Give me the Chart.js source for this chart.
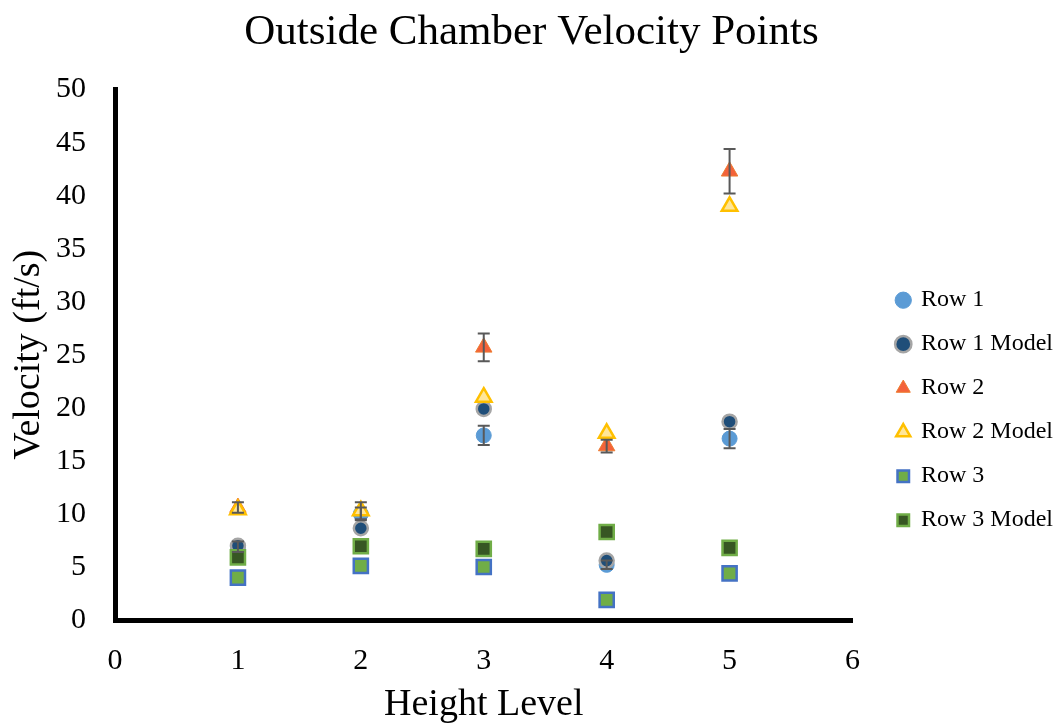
<!DOCTYPE html>
<html>
<head>
<meta charset="utf-8">
<script src="https://cdn.jsdelivr.net/npm/chart.js@4.4.1/dist/chart.umd.min.js"></script>
<style>
  html, body { margin: 0; padding: 0; background: #fff; }
  #wrap { width: 1058px; height: 728px; }
</style>
</head>
<body>
<div id="wrap"><canvas id="velChart" width="1058" height="728"></canvas></div>
<script>
const heights = [1, 2, 3, 4, 5];
const row1 = [6.9, 10.0, 17.4, 5.2, 17.1];
const row1Err = [0.5, 0.6, 0.9, 0.4, 0.9];
const row1Model = [7.0, 8.65, 19.9, 5.6, 18.7];
const row2 = [10.6, 10.3, 25.7, 16.4, 42.3];
const row2Err = [0.5, 0.8, 1.3, 0.6, 2.1];
const row2Model = [10.4, 10.3, 21.0, 17.6, 39.0];
const row3 = [4.0, 5.1, 5.0, 1.9, 4.4];
const row3Model = [5.9, 6.95, 6.7, 8.3, 6.8];
const yTicks = [0, 5, 10, 15, 20, 25, 30, 35, 40, 45, 50];
const xTicks = [0, 1, 2, 3, 4, 5, 6];

const serif = "'Liberation Serif', 'Times New Roman', serif";

function pts(ys) {
    return heights.map((h, i) => ({ x: h, y: ys[i] }));
}

// draws vertical error bars using the chart's own scales
const errorBars = {
    id: 'errorBars',
    afterDatasetsDraw(chart) {
        const ctx = chart.ctx;
        const xs = chart.scales.x, ys = chart.scales.y;
        ctx.save();
        ctx.strokeStyle = '#595959';
        ctx.lineWidth = 2;
        chart.data.datasets.forEach(ds => {
            if (!ds.errors) return;
            ds.data.forEach((p, i) => {
                const e = ds.errors[i];
                const px = xs.getPixelForValue(p.x);
                const top = ys.getPixelForValue(p.y + e);
                const bot = ys.getPixelForValue(p.y - e);
                ctx.beginPath();
                ctx.moveTo(px, top); ctx.lineTo(px, bot);
                ctx.moveTo(px - 6, top); ctx.lineTo(px + 6, top);
                ctx.moveTo(px - 6, bot); ctx.lineTo(px + 6, bot);
                ctx.stroke();
            });
        });
        ctx.restore();
    }
};

const datasets = [
    { label: 'Row 1', data: pts(row1), errors: row1Err, pointStyle: 'circle', pointRadius: 7.5,
      backgroundColor: '#5B9BD5', borderColor: '#5B9BD5', borderWidth: 1 },
    { label: 'Row 1 Model', data: pts(row1Model), pointStyle: 'circle', pointRadius: 7,
      backgroundColor: '#1F4E79', borderColor: '#A5A5A5', borderWidth: 2.5 },
    { label: 'Row 2', data: pts(row2), errors: row2Err, pointStyle: 'triangle', pointRadius: 9.5,
      backgroundColor: '#F4623A', borderColor: '#ED7D31', borderWidth: 1 },
    { label: 'Row 2 Model', data: pts(row2Model), pointStyle: 'triangle', pointRadius: 9,
      backgroundColor: '#FFE699', borderColor: '#FFC000', borderWidth: 2.5 },
    { label: 'Row 3', data: pts(row3), pointStyle: 'rect', pointRadius: 10,
      backgroundColor: '#70AD47', borderColor: '#4472C4', borderWidth: 2.5 },
    { label: 'Row 3 Model', data: pts(row3Model), pointStyle: 'rect', pointRadius: 10,
      backgroundColor: '#375623', borderColor: '#70AD47', borderWidth: 2.5 }
];
datasets.forEach((d, i) => { d.order = datasets.length - i; d.pointHoverRadius = d.pointRadius; });

new Chart(document.getElementById('velChart'), {
    type: 'scatter',
    data: { datasets },
    plugins: [errorBars],
    options: {
        responsive: false,
        animation: false,
        layout: { padding: { top: 7, right: -5, left: 0, bottom: 0 } },
        plugins: {
            tooltip: { enabled: false },
            title: {
                display: true,
                text: 'Outside Chamber Velocity Points',
                color: '#000',
                font: { family: serif, size: 43, weight: 'normal' },
                padding: { top: 0, bottom: 31 }
            },
            legend: {
                position: 'right',
                maxWidth: 400,
                title: { display: true, text: '', padding: { top: 71, bottom: 0 } },
                labels: {
                    usePointStyle: true,
                    boxWidth: 11.5,
                    boxHeight: 11.5,
                    padding: 20,
                    color: '#000',
                    font: { family: serif, size: 24 },
                    sort: (a, b) => a.datasetIndex - b.datasetIndex
                }
            }
        },
        scales: {
            x: {
                type: 'linear',
                min: 0, max: 6,
                afterBuildTicks: s => { s.ticks = xTicks.map(v => ({ value: v })); },
                afterFit: s => { s.height = 108; },
                grid: { display: false },
                border: { color: '#000', width: 5 },
                ticks: { color: '#000', font: { family: serif, size: 30 }, padding: 15 },
                title: { display: true, text: 'Height Level', color: '#000',
                         font: { family: serif, size: 38 }, padding: { top: 0, bottom: 0 } }
            },
            y: {
                min: 0, max: 50,
                afterBuildTicks: s => { s.ticks = yTicks.map(v => ({ value: v })); },
                afterFit: s => { s.width = 115; },
                grid: { display: false },
                border: { color: '#000', width: 5 },
                ticks: { color: '#000', font: { family: serif, size: 30 }, padding: 21 },
                title: { display: true, text: 'Velocity (ft/s)', color: '#000',
                         font: { family: serif, size: 38 }, padding: { top: 6, bottom: 0 } }
            },
            // empty spacer between plot and legend
            gap: {
                position: 'right',
                grid: { display: false },
                border: { display: false },
                ticks: { display: false },
                afterFit: s => { s.width = 25; }
            }
        }
    }
});
</script>
</body>
</html>
